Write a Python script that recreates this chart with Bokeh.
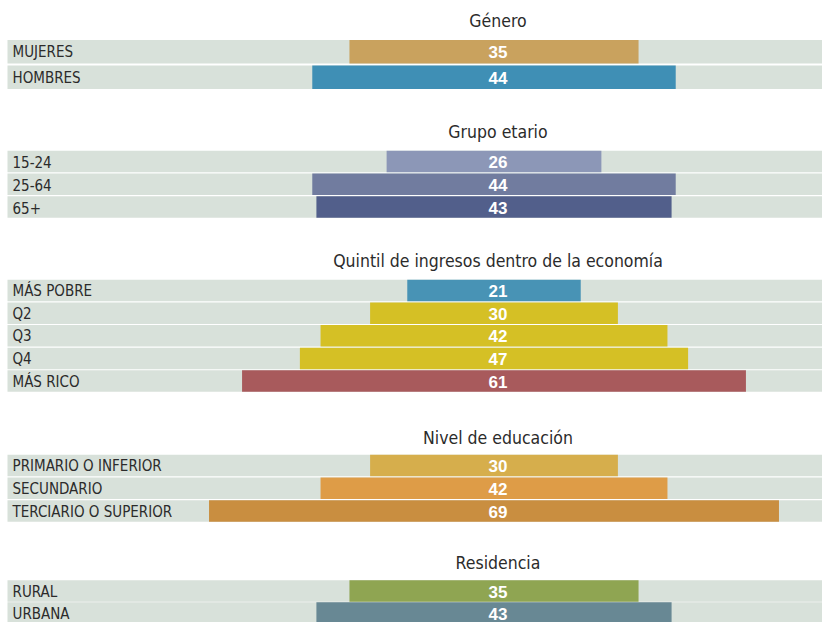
from bokeh.plotting import figure
from bokeh.models import Range1d, ColumnDataSource
from bokeh.core.properties import value
from bokeh.embed import file_html
from bokeh.resources import INLINE

# ---- data ----
group_titles = ["Género", "Grupo etario", "Quintil de ingresos dentro de la economía",
                "Nivel de educación", "Residencia"]
genero_cats = ["MUJERES", "HOMBRES"]
genero_vals = [35, 44]
genero_cols = ["#c9a25e", "#3f8fb5"]
edad_cats = ["15-24", "25-64", "65+"]
edad_vals = [26, 44, 43]
edad_cols = ["#8c97b7", "#717c9f", "#525f8b"]
quintil_cats = ["MÁS POBRE", "Q2", "Q3", "Q4", "MÁS RICO"]
quintil_vals = [21, 30, 42, 47, 61]
quintil_cols = ["#4893b5", "#d5c025", "#d5c025", "#d5c025", "#a85a5c"]
educ_cats = ["PRIMARIO O INFERIOR", "SECUNDARIO", "TERCIARIO O SUPERIOR"]
educ_vals = [30, 42, 69]
educ_cols = ["#d6ae4c", "#de9c47", "#c98e40"]
resid_cats = ["RURAL", "URBANA"]
resid_vals = [35, 43]
resid_cols = ["#8fa552", "#688894"]

groups = [
    (genero_cats, genero_vals, genero_cols),
    (edad_cats, edad_vals, edad_cols),
    (quintil_cats, quintil_vals, quintil_cols),
    (educ_cats, educ_vals, educ_cols),
    (resid_cats, resid_vals, resid_cols),
]

# ---- layout (pixels from top-left of plot) ----
W, H = 822, 622
CENTER_PX = 493.5
SCALE = 8.26  # px per unit
XL = -CENTER_PX / SCALE
XR = (W - CENTER_PX) / SCALE
BG_LEFT = (7 - CENTER_PX) / SCALE
title_y = [20.5, 131.5, 260, 437, 562]
first_row_dy = [30.7, 29.5, 30, 28, 28.5]
pitch = [25.5, 22.75, 22.65, 22.75, 22]
bar_h = [23.5, 21.5, 21.5, 21.5, 21.5]

rows = dict(y=[], h=[], cat=[], val=[], col=[], left=[], right=[], lbl=[])
titles = dict(y=[], t=[])
for gi, (cats, vals, cols) in enumerate(groups):
    titles["y"].append(title_y[gi])
    titles["t"].append(group_titles[gi])
    for i, (c, v, col) in enumerate(zip(cats, vals, cols)):
        y = title_y[gi] + first_row_dy[gi] + i * pitch[gi]
        rows["y"].append(y)
        rows["h"].append(bar_h[gi])
        rows["cat"].append(c)
        rows["val"].append(v)
        rows["lbl"].append(str(v))
        rows["col"].append(col)
        rows["left"].append(-v / 2)
        rows["right"].append(v / 2)

src = ColumnDataSource(rows)
tsrc = ColumnDataSource(titles)

p = figure(width=W, height=H, output_backend="svg", toolbar_location=None,
           x_range=Range1d(XL, XR), y_range=Range1d(H, 0), min_border=0)
p.axis.visible = False
p.grid.visible = False
p.outline_line_color = None
p.background_fill_color = "white"

p.hbar(y="y", height="h", left=BG_LEFT, right=XR, source=src,
       fill_color="#d8e1da", line_color=None)
p.hbar(y="y", height="h", left="left", right="right", source=src,
       fill_color="col", line_color=None)

label_font = value("DejaVu Sans Condensed")
p.text(x=BG_LEFT, y="y", text="cat", source=src, x_offset=5, y_offset=0.5,
       text_font=label_font, text_font_size="15px", text_color="#2b2b2b",
       text_baseline="middle", text_align="left")
p.text(x=0, y="y", text="lbl", source=src, x_offset=4, y_offset=0.5,
       text_font=value("Liberation Sans"), text_font_size="17px",
       text_font_style="bold", text_color="white",
       text_baseline="middle", text_align="center")
p.text(x=0, y="y", text="t", source=tsrc, x_offset=4,
       text_font=label_font, text_font_size="17.5px", text_color="#2b2b2b",
       text_baseline="middle", text_align="center")

open("out.html", "w").write(file_html(p, INLINE))
